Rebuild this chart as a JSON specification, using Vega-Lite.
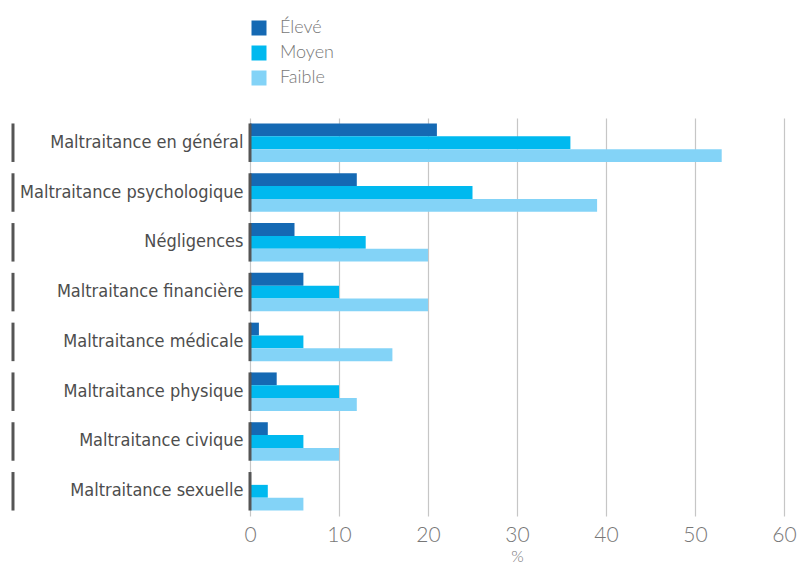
{
  "$schema": "https://vega.github.io/schema/vega-lite/v6.json",
  "autosize": "none",
  "width": 534,
  "height": 398,
  "padding": {"left": 250, "top": 118, "right": 14, "bottom": 49},
  "background": "white",
  "config": {
    "view": {"stroke": null},
    "axis": {"labelFont": "Lato", "titleFont": "Lato"}
  },
  "datasets": {
    "rows": [
      {"cat": "Maltraitance en général", "niveau": "Élevé", "pct": 21},
      {"cat": "Maltraitance en général", "niveau": "Moyen", "pct": 36},
      {"cat": "Maltraitance en général", "niveau": "Faible", "pct": 53},
      {"cat": "Maltraitance psychologique", "niveau": "Élevé", "pct": 12},
      {"cat": "Maltraitance psychologique", "niveau": "Moyen", "pct": 25},
      {"cat": "Maltraitance psychologique", "niveau": "Faible", "pct": 39},
      {"cat": "Négligences", "niveau": "Élevé", "pct": 5},
      {"cat": "Négligences", "niveau": "Moyen", "pct": 13},
      {"cat": "Négligences", "niveau": "Faible", "pct": 20},
      {"cat": "Maltraitance financière", "niveau": "Élevé", "pct": 6},
      {"cat": "Maltraitance financière", "niveau": "Moyen", "pct": 10},
      {"cat": "Maltraitance financière", "niveau": "Faible", "pct": 20},
      {"cat": "Maltraitance médicale", "niveau": "Élevé", "pct": 1},
      {"cat": "Maltraitance médicale", "niveau": "Moyen", "pct": 6},
      {"cat": "Maltraitance médicale", "niveau": "Faible", "pct": 16},
      {"cat": "Maltraitance physique", "niveau": "Élevé", "pct": 3},
      {"cat": "Maltraitance physique", "niveau": "Moyen", "pct": 10},
      {"cat": "Maltraitance physique", "niveau": "Faible", "pct": 12},
      {"cat": "Maltraitance civique", "niveau": "Élevé", "pct": 2},
      {"cat": "Maltraitance civique", "niveau": "Moyen", "pct": 6},
      {"cat": "Maltraitance civique", "niveau": "Faible", "pct": 10},
      {"cat": "Maltraitance sexuelle", "niveau": "Élevé", "pct": 0},
      {"cat": "Maltraitance sexuelle", "niveau": "Moyen", "pct": 2},
      {"cat": "Maltraitance sexuelle", "niveau": "Faible", "pct": 6}
    ]
  },
  "data": {"name": "rows"},
  "encoding": {
    "y": {
      "field": "cat",
      "type": "nominal",
      "sort": null,
      "scale": {"paddingInner": 0.227, "paddingOuter": 0.11},
      "axis": {
        "title": null,
        "domain": false,
        "ticks": false,
        "labelFont": "DejaVu Sans Condensed",
        "labelFontSize": 18,
        "labelColor": "#4d4d4d",
        "labelPadding": 7,
        "labelLimit": 400
      }
    }
  },
  "layer": [
    {
      "mark": {"type": "bar"},
      "encoding": {
        "x": {
          "field": "pct",
          "type": "quantitative",
          "scale": {"domain": [0, 60], "nice": false},
          "axis": {
            "values": [0, 10, 20, 30, 40, 50, 60],
            "title": "%",
            "titleFontSize": 16,
            "titleFontWeight": 300,
            "titleColor": "#777777",
            "titlePadding": 3,
            "labelFontSize": 21,
            "labelFontWeight": 300,
            "labelColor": "#777777",
            "labelPadding": 8,
            "labelFlush": false,
            "domain": false,
            "ticks": false,
            "grid": true,
            "gridColor": "#c6c6c6",
            "gridWidth": 1.2
          }
        },
        "yOffset": {
          "field": "niveau",
          "type": "nominal",
          "sort": ["Élevé", "Moyen", "Faible"],
          "scale": {"paddingInner": 0, "paddingOuter": 0}
        },
        "color": {
          "field": "niveau",
          "type": "nominal",
          "sort": ["Élevé", "Moyen", "Faible"],
          "scale": {
            "domain": ["Élevé", "Moyen", "Faible"],
            "range": ["#1569b3", "#00b9ef", "#83d3f7"]
          },
          "legend": {
            "title": null,
            "orient": "none",
            "legendX": 0,
            "legendY": -99,
            "symbolType": "square",
            "symbolSize": 225,
            "symbolStrokeWidth": 0,
            "labelFont": "Lato",
            "labelFontWeight": 300,
            "labelFontSize": 18,
            "labelColor": "#777777",
            "labelOffset": 12,
            "rowPadding": 7
          }
        }
      }
    },
    {
      "transform": [{"filter": "datum.niveau === 'Élevé'"}],
      "mark": {"type": "tick", "orient": "vertical", "size": 38.5, "thickness": 3, "color": "#555555", "opacity": 1},
      "encoding": {"x": {"datum": 0}}
    },
    {
      "transform": [{"filter": "datum.niveau === 'Élevé'"}],
      "mark": {"type": "tick", "orient": "vertical", "size": 38.5, "thickness": 3, "color": "#555555", "opacity": 1, "clip": false},
      "encoding": {"x": {"datum": -26.63}}
    }
  ]
}
